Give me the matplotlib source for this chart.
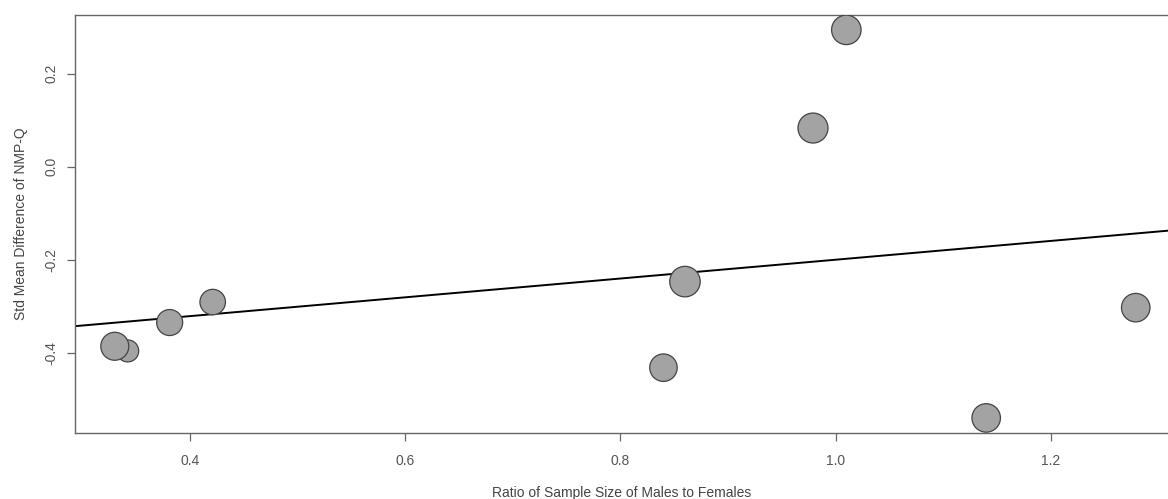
import matplotlib.pyplot as plt
import numpy as np

plt.rcParams["font.family"] = ["Liberation Sans", "DejaVu Sans"]

# Study-level effects: ratio of male/female sample size vs. SMD of NMP-Q
ratio = [0.342, 0.330, 0.381, 0.421, 0.840, 0.860, 0.979, 1.010, 1.140, 1.279]
smd = [-0.396, -0.386, -0.335, -0.291, -0.432, -0.247, 0.083, 0.294, -0.540, -0.303]
# precision (1/sqrt(vi)), sets the bubble size
precision = [2.2, 2.8, 2.6, 2.55, 2.75, 3.05, 3.0, 2.95, 2.85, 2.85]

# fitted meta-regression line
intercept = -0.402
slope = 0.202

xlim = (0.293, 1.309)
ylim = (-0.573, 0.326)

fig = plt.figure(figsize=(11.68, 4.99), dpi=100)
ax = fig.add_axes([0.0642, 0.1317, 0.9358, 0.8383])

xs = np.array(xlim)
ax.plot(xs, intercept + slope * xs, color="black", lw=1.4, zorder=2)

# radius in px = 5 * precision -> diameter in points
diam_pt = 2 * 5.0 * np.array(precision) * 0.72
ax.scatter(ratio, smd, s=diam_pt ** 2, facecolor="#a3a3a3",
           edgecolor="#444444", linewidth=0.9, zorder=3)

ax.set_xlim(*xlim)
ax.set_ylim(*ylim)
ax.set_xticks([0.4, 0.6, 0.8, 1.0, 1.2])
ax.set_yticks([-0.4, -0.2, 0.0, 0.2])
ax.set_xticklabels(["0.4", "0.6", "0.8", "1.0", "1.2"])
ax.set_yticklabels(["-0.4", "-0.2", "0.0", "0.2"], rotation=90, va="center")

for side in ("left", "bottom", "top"):
    ax.spines[side].set_color("#666666")
    ax.spines[side].set_linewidth(1.0)
ax.spines["right"].set_visible(False)
ax.tick_params(direction="out", length=6, width=0.9, color="#666666",
               labelsize=10, labelcolor="#555555")
ax.tick_params(axis="x", pad=9)
ax.tick_params(axis="y", pad=6)

ax.set_xlabel("Ratio of Sample Size of Males to Females", fontsize=10,
              color="#444444", labelpad=13)
ax.set_ylabel("Std Mean Difference of NMP-Q", fontsize=10,
              color="#444444", labelpad=12)

fig.savefig("out.png", dpi=100)
